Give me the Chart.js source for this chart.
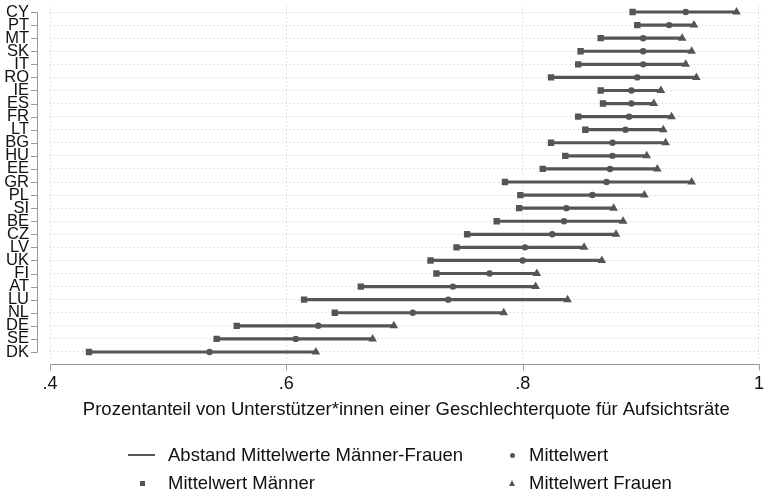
<!DOCTYPE html>
<html>
<head>
<meta charset="utf-8">
<script src="https://cdn.jsdelivr.net/npm/chart.js@4"></script>
<style>
  body { margin: 0; background: #fff; }
  #wrap { position: relative; width: 764px; height: 496px; font-family: "Liberation Sans", Arial, sans-serif; }
  #legend .item { position: absolute; font-size: 18.5px; line-height: 22px; color: #111; white-space: nowrap; }
  #legend .mark { position: absolute; background: #555; }
</style>
</head>
<body>
<div id="wrap">
  <canvas id="myChart" width="764" height="496"></canvas>
  <div id="legend"></div>
</div>
<script>
const countries = ["CY", "PT", "MT", "SK", "IT", "RO", "IE", "ES", "FR", "LT", "BG", "HU", "EE", "GR",
  "PL", "SI", "BE", "CZ", "LV", "UK", "FI", "AT", "LU", "NL", "DE", "SE", "DK"];
const meanAll = [0.938, 0.924, 0.902, 0.902, 0.902, 0.897, 0.892, 0.892, 0.890, 0.887, 0.876, 0.876, 0.874, 0.871,
  0.859, 0.837, 0.835, 0.825, 0.802, 0.800, 0.772, 0.741, 0.737, 0.707, 0.627, 0.608, 0.535];
const meanMen = [0.893, 0.897, 0.866, 0.849, 0.847, 0.824, 0.866, 0.868, 0.847, 0.853, 0.824, 0.836, 0.817, 0.785,
  0.798, 0.797, 0.778, 0.753, 0.744, 0.722, 0.727, 0.663, 0.615, 0.641, 0.558, 0.541, 0.433];
const meanWomen = [0.981, 0.945, 0.935, 0.943, 0.938, 0.947, 0.917, 0.911, 0.926, 0.919, 0.921, 0.905, 0.914, 0.943,
  0.903, 0.877, 0.885, 0.879, 0.852, 0.867, 0.812, 0.811, 0.838, 0.784, 0.691, 0.673, 0.625];
const xTicks = [0.4, 0.6, 0.8, 1];
const xTitle = "Prozentanteil von Unterstützer*innen einer Geschlechterquote für Aufsichtsräte";
const seriesNames = ["Abstand Mittelwerte Männer-Frauen", "Mittelwert", "Mittelwert Männer", "Mittelwert Frauen"];

const markColor = "#555555";

// draws the detached stata-style axis lines (bracket look)
const axisBrackets = {
  id: "axisBrackets",
  afterDraw(chart) {
    const { ctx, chartArea, scales: { x, y } } = chart;
    ctx.save();
    ctx.strokeStyle = "#999";
    ctx.lineWidth = 1;
    ctx.beginPath();
    const ax = Math.round(chartArea.left - 13.3) + 0.5;
    ctx.moveTo(ax, Math.round(y.getPixelForValue(0)) + 0.5);
    ctx.lineTo(ax, Math.round(y.getPixelForValue(countries.length - 1)) + 0.5);
    countries.forEach((c, i) => {
      const py = Math.round(y.getPixelForValue(i)) + 0.5;
      ctx.moveTo(ax - 6.5, py);
      ctx.lineTo(ax, py);
    });
    const ay = Math.round(chartArea.bottom + 5) + 0.5;
    ctx.moveTo(Math.round(x.getPixelForValue(xTicks[0])) + 0.5, ay);
    ctx.lineTo(Math.round(x.getPixelForValue(xTicks[xTicks.length - 1])) + 0.5, ay);
    xTicks.forEach((v) => {
      const px = Math.round(x.getPixelForValue(v)) + 0.5;
      ctx.moveTo(px, ay);
      ctx.lineTo(px, ay + 6);
    });
    ctx.stroke();
    ctx.restore();
  },
};

const ctx = document.getElementById("myChart");
new Chart(ctx, {
  type: "bar",
  data: {
    labels: countries,
    datasets: [
      {
        type: "line",
        label: seriesNames[1],
        indexAxis: "y",
        data: meanAll,
        showLine: false,
        pointStyle: "circle",
        pointRadius: 3.2,
        pointHoverRadius: 3.2,
        pointBorderWidth: 0,
        backgroundColor: markColor,
        borderColor: markColor,
        order: 1,
      },
      {
        type: "line",
        label: seriesNames[2],
        indexAxis: "y",
        data: meanMen,
        showLine: false,
        pointStyle: "rect",
        pointRadius: 4.5,
        pointHoverRadius: 4.5,
        pointBorderWidth: 0,
        backgroundColor: markColor,
        borderColor: markColor,
        order: 2,
      },
      {
        type: "line",
        label: seriesNames[3],
        indexAxis: "y",
        data: meanWomen,
        showLine: false,
        pointStyle: "triangle",
        pointRadius: 5,
        pointHoverRadius: 5,
        pointBorderWidth: 0,
        backgroundColor: markColor,
        borderColor: markColor,
        order: 3,
      },
      {
        label: seriesNames[0],
        indexAxis: "y",
        data: meanMen.map((m, i) => [m, meanWomen[i]]),
        backgroundColor: markColor,
        barThickness: 2.5,
        order: 4,
      },
    ],
  },
  options: {
    indexAxis: "y",
    responsive: false,
    animation: false,
    devicePixelRatio: 1,
    layout: { autoPadding: false, padding: { top: 5.5, right: 1, bottom: 74.9, left: 0 } },
    plugins: {
      legend: { display: false },
      tooltip: { enabled: false },
    },
    scales: {
      x: {
        type: "linear",
        min: 0.4,
        max: 1.003,
        afterBuildTicks: (s) => {
          s.ticks = xTicks.map((v) => ({ value: v }));
        },
        ticks: {
          padding: 0,
          color: "#111",
          font: { family: "Liberation Sans", size: 18 },
          maxRotation: 0,
          callback: (v) => (v === 1 ? "1" : String(v).replace(/^0/, "")),
        },
        grid: { drawTicks: true, tickLength: 14.7, tickWidth: 0, color: "#c8c8c8", lineWidth: 1 },
        border: { display: false, dash: [1, 3] },
        title: {
          display: true,
          text: xTitle,
          color: "#111",
          font: { family: "Liberation Sans", size: 18.5 },
          padding: { top: 4.1, bottom: 0 },
        },
      },
      y: {
        type: "category",
        offset: true,
        afterFit: (s) => {
          s.width = 50;
        },
        ticks: {
          padding: 0,
          color: "#111",
          font: { family: "Liberation Sans", size: 16.5, lineHeight: 0.6 },
          autoSkip: false,
        },
        grid: { offset: false, drawTicks: true, tickLength: 21, tickWidth: 0, color: "#c8c8c8", lineWidth: 1 },
        border: { display: false, dash: [1, 3] },
      },
    },
  },
  plugins: [axisBrackets],
});

// legend laid out in two columns like the original
const legend = document.getElementById("legend");
const legendItems = [
  { name: seriesNames[0], mark: "line", mx: 141.5, tx: 168, cy: 455 },
  { name: seriesNames[1], mark: "circle", mx: 512, tx: 529, cy: 455 },
  { name: seriesNames[2], mark: "square", mx: 142.7, tx: 168, cy: 483 },
  { name: seriesNames[3], mark: "triangle", mx: 512, tx: 529, cy: 483 },
];
legendItems.forEach((it) => {
  const m = document.createElement("div");
  m.className = "mark";
  if (it.mark === "line") {
    m.style.cssText = `left:${it.mx - 13.5}px;top:${it.cy - 1}px;width:27px;height:2px;`;
  } else if (it.mark === "circle") {
    m.style.cssText = `left:${it.mx - 2.5}px;top:${it.cy - 2.5}px;width:5px;height:5px;border-radius:50%;`;
  } else if (it.mark === "square") {
    m.style.cssText = `left:${it.mx - 2.5}px;top:${it.cy - 2.5}px;width:5px;height:5px;`;
  } else {
    m.style.cssText = `left:${it.mx - 3.5}px;top:${it.cy - 3}px;width:0;height:0;background:none;` +
      `border-left:3.5px solid transparent;border-right:3.5px solid transparent;border-bottom:6px solid ${markColor};`;
  }
  legend.appendChild(m);
  const t = document.createElement("div");
  t.className = "item";
  t.textContent = it.name;
  t.style.left = it.tx + "px";
  t.style.top = it.cy - 11 + "px";
  legend.appendChild(t);
});
</script>
</body>
</html>
